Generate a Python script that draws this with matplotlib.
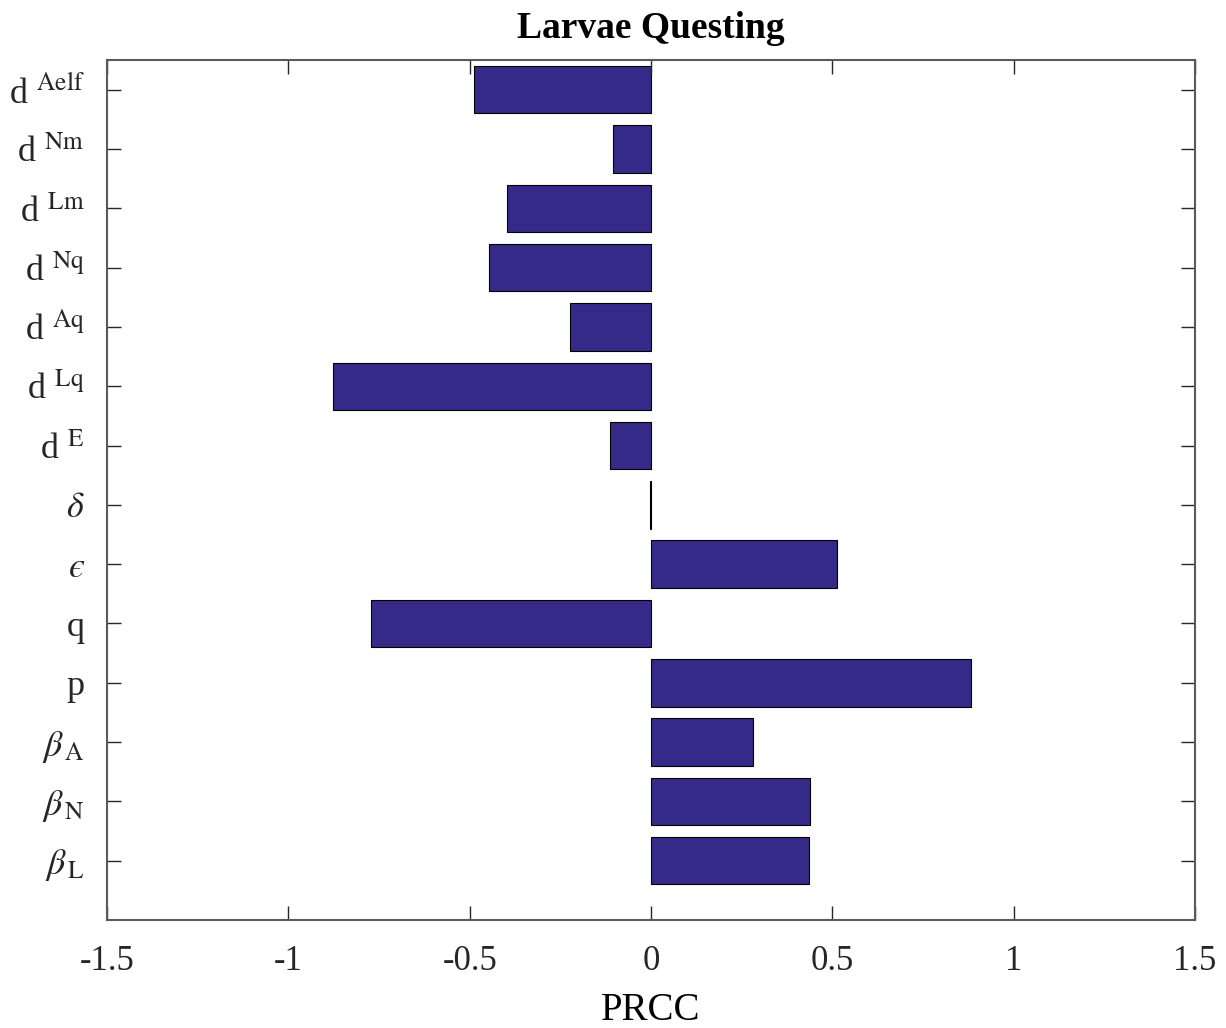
import matplotlib
matplotlib.use('Agg')
import matplotlib.pyplot as plt

plt.rcParams['font.family'] = ['Liberation Serif', 'DejaVu Serif']
plt.rcParams['mathtext.fontset'] = 'stix'

# parameters, top to bottom as drawn
labels = [r'd $^{\mathrm{Aelf}}$', r'd $^{\mathrm{Nm}}$', r'd $^{\mathrm{Lm}}$',
          r'd $^{\mathrm{Nq}}$', r'd $^{\mathrm{Aq}}$', r'd $^{\mathrm{Lq}}$',
          r'd $^{\mathrm{E}}$', r'$\delta$', '$\u03f5$', 'q', 'p',
          r'$\beta_{\,\mathrm{A}}$', r'$\beta_{\,\mathrm{N}}$', r'$\beta_{\,\mathrm{L}}$']
prcc = [-0.488, -0.105, -0.398, -0.447, -0.223, -0.876, -0.113,
        -0.004, 0.513, -0.772, 0.882, 0.281, 0.438, 0.437]
xticks = [-1.5, -1, -0.5, 0, 0.5, 1, 1.5]
xticklabels = ['-1.5', '-1', '-0.5', '0', '0.5', '1', '1.5']

n = len(labels)
ypos = list(range(n, 0, -1))

fig = plt.figure(figsize=(12.26, 10.28), dpi=100)
ax = fig.add_axes([0.0873, 0.105, 0.8874, 0.8366])

ax.barh(ypos, prcc, height=0.8, color='#352a87', edgecolor='black', linewidth=0.8)

ax.set_xlim(-1.5, 1.5)
ax.set_ylim(0, n + 0.5)
ax.set_xticks(xticks)
ax.set_xticklabels(xticklabels, fontsize=25)
ax.set_yticks(ypos)
ax.set_yticklabels(labels, fontsize=26)

ax.tick_params(direction='in', length=10, width=1, top=True, right=True,
               colors='#262626')
ax.tick_params(axis='x', pad=18)
ax.tick_params(axis='y', pad=16)
for s in ax.spines.values():
    s.set_color('#5a5a5a')
    s.set_linewidth(1.5)

ax.set_title('Larvae Questing', fontsize=27, fontweight='bold', pad=16)
ax.set_xlabel('PRCC', fontsize=28, labelpad=10)

fig.savefig('out.png', dpi=100)
